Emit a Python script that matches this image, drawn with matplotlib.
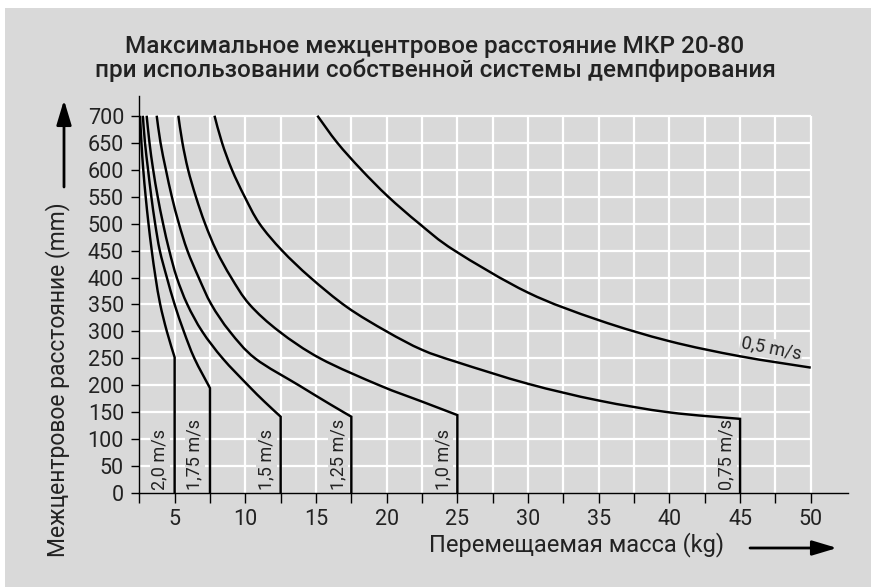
import matplotlib
matplotlib.use("Agg")
import matplotlib.pyplot as plt
import numpy as np
from matplotlib.patches import Rectangle, PathPatch
from matplotlib.path import Path

# moved mass (kg) vs max centre distance (mm);
# every curve except 0.5 m/s ends with a vertical drop to zero at its last mass
m_2_0 = [2.55, 2.65, 2.78, 2.95, 3.15, 3.38, 3.65, 3.98, 4.45, 5.0]
d_2_0 = [700, 650, 600, 550, 500, 450, 400, 350, 300, 252]

m_1_75 = [2.75, 2.9, 3.12, 3.35, 3.62, 3.95, 4.45, 5.0, 5.65, 6.4, 7.5]
d_1_75 = [700, 650, 600, 550, 500, 450, 400, 350, 300, 250, 195]

m_1_5 = [3.02, 3.22, 3.48, 3.8, 4.18, 4.62, 5.15, 5.9, 6.95, 8.4, 10.2, 11.35, 12.5]
d_1_5 = [700, 650, 600, 550, 500, 450, 400, 350, 300, 250, 200, 170, 142]

m_1_25 = [3.73, 4.0, 4.38, 4.8, 5.3, 5.9, 6.7, 7.6, 8.9, 10.7, 13.8, 16.0, 17.5]
d_1_25 = [700, 650, 600, 550, 500, 450, 400, 350, 300, 250, 200, 165, 142]

m_1_0 = [5.26, 5.55, 5.95, 6.5, 7.15, 7.95, 9.0, 10.3, 12.4, 15.3, 19.5, 22.5, 25.0]
d_1_0 = [700, 650, 600, 550, 500, 450, 400, 350, 300, 250, 200, 170, 145]

m_0_75 = [7.82, 8.35, 9.05, 9.95, 11.0, 12.6, 14.6, 17.2, 20.0, 22.5, 25.0, 30.0, 35.0, 40.0, 45.0]
d_0_75 = [700, 650, 600, 550, 500, 450, 400, 345, 300, 266, 243, 203, 172, 150, 138]

m_0_5 = [15.1, 16.5, 18.2, 20.1, 22.3, 24.8, 30.0, 35.0, 40.0, 45.0, 50.0]
d_0_5 = [700, 650, 600, 550, 500, 450, 372, 321, 282, 254, 233]

speed_labels = ["2,0 m/s", "1,75 m/s", "1,5 m/s", "1,25 m/s", "1,0 m/s", "0,75 m/s"]
curves = [(m_2_0, d_2_0), (m_1_75, d_1_75), (m_1_5, d_1_5),
          (m_1_25, d_1_25), (m_1_0, d_1_0), (m_0_75, d_0_75)]

x_ticks = np.arange(2.5, 50.01, 2.5)
y_ticks = np.arange(0, 701, 50)

# where the vertical speed labels sit (kg)
label_x = [3.94, 6.42, 11.5, 16.56, 24.0, 44.05]

GREY = "#d9d9d9"
INK = "#222222"
FONT = "Roboto"
PX = np.array([14.13, 0.5394])  # rough pixels per kg / per mm, for even smoothing


def smooth_path(xs, ys, drop=False):
    """Catmull-Rom curve through the read points, optionally dropped to y=0."""
    p = np.column_stack([xs, ys]) * PX
    verts, codes = [p[0]], [Path.MOVETO]
    for i in range(len(p) - 1):
        p0 = p[i - 1] if i > 0 else p[i]
        p3 = p[i + 2] if i + 2 < len(p) else p[i + 1]
        verts += [p[i] + (p[i + 1] - p0) / 6, p[i + 1] - (p3 - p[i]) / 6, p[i + 1]]
        codes += [Path.CURVE4] * 3
    if drop:
        verts.append(np.array([p[-1][0], 0.0]))
        codes.append(Path.LINETO)
    return Path(np.array(verts) / PX, codes)


fig = plt.figure(figsize=(8.71, 5.87), dpi=100)
fig.patch.set_facecolor("white")
fig.patches.append(Rectangle((5 / 871, 0), 1, 1 - 8 / 587, transform=fig.transFigure,
                             facecolor=GREY, edgecolor="none", zorder=-10))

ax = fig.add_axes([139.3 / 871, 1 - 493.3 / 587, (847.5 - 139.3) / 871, (493.3 - 96) / 587])
ax.set_facecolor("none")
ax.set_xlim(2.5, 52.6)
ax.set_ylim(0, 736.5)

# white grid, limited to the 2.5..50 kg / 0..700 mm field
ax.vlines(x_ticks, 0, 700, colors="white", lw=1.6, zorder=1)
ax.hlines(y_ticks[1:], 2.5, 50, colors="white", lw=1.6, zorder=1)

for (m, d) in curves:
    ax.add_patch(PathPatch(smooth_path(m, d, drop=True), fill=False, edgecolor="black",
                           lw=1.75, zorder=3, joinstyle="miter"))
ax.add_patch(PathPatch(smooth_path(m_0_5, d_0_5), fill=False, edgecolor="black",
                       lw=1.75, zorder=3))

for lx, lab in zip(label_x, speed_labels):
    ax.text(lx, 7, lab, rotation=90, ha="center", va="bottom", fontsize=13,
            family=FONT, color=INK, zorder=2,
            bbox=dict(facecolor=GREY, edgecolor="none", pad=0.8))
ax.text(47.2, 268, "0,5 m/s", rotation=-11, ha="center", va="center", fontsize=13,
        family=FONT, color=INK, zorder=2,
        bbox=dict(facecolor=GREY, edgecolor="none", pad=0.8))

for s in ["top", "right"]:
    ax.spines[s].set_visible(False)
for s in ["left", "bottom"]:
    ax.spines[s].set_linewidth(1.0)
    ax.spines[s].set_zorder(4)

ax.set_xticks(x_ticks)
ax.set_xticklabels([f"{v:g}" if v % 5 == 0 else "" for v in x_ticks])
ax.set_yticks(y_ticks)
ax.set_yticklabels([str(v) for v in y_ticks])
ax.tick_params(axis="x", direction="out", length=7, width=1, pad=4, labelsize=15.5, labelcolor=INK)
ax.tick_params(axis="y", direction="out", length=6, width=1, pad=5, labelsize=15.5, labelcolor=INK)
for t in ax.get_xticklabels() + ax.get_yticklabels():
    t.set_family(FONT)

fig.text(435 / 871, 1 - 46 / 587, "Максимальное межцентровое расстояние МКР 20-80",
         ha="center", va="center", fontsize=17.5, family=FONT, weight="medium", color=INK)
fig.text(435 / 871, 1 - 70 / 587, "при использовании собственной системы демпфирования",
         ha="center", va="center", fontsize=17.5, family=FONT, weight="medium", color=INK)

fig.text(577 / 871, 1 - 545 / 587, "Перемещаемая масса (kg)", ha="center", va="center",
         fontsize=17, family=FONT, color=INK)
fig.text(58 / 871, 1 - 380 / 587, "Межцентровое расстояние (mm)", ha="center", va="center",
         rotation=90, fontsize=16.5, family=FONT, color=INK)

arrow = dict(arrowstyle="-|>,head_length=1.5,head_width=0.45", color="black", lw=2,
             shrinkA=0, shrinkB=0)
ax.annotate("", xy=(837 / 871, 1 - 548 / 587), xytext=(750 / 871, 1 - 548 / 587),
            xycoords="figure fraction", textcoords="figure fraction", arrowprops=arrow,
            annotation_clip=False)
ax.annotate("", xy=(64 / 871, 1 - 100 / 587), xytext=(64 / 871, 1 - 187 / 587),
            xycoords="figure fraction", textcoords="figure fraction", arrowprops=arrow,
            annotation_clip=False)

fig.savefig("out.png", dpi=100, facecolor=fig.get_facecolor())
